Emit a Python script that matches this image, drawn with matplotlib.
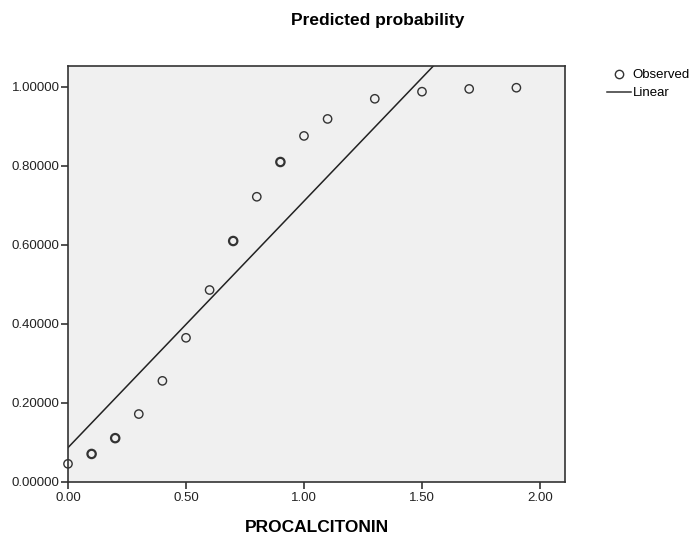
import matplotlib
matplotlib.use("Agg")
import matplotlib.pyplot as plt
from matplotlib.lines import Line2D

# observed probabilities by procalcitonin value
pct_values = [0.0, 0.1, 0.2, 0.3, 0.4, 0.5, 0.6, 0.7, 0.8, 0.9, 1.0, 1.1, 1.3, 1.5, 1.7, 1.9]
observed = [0.046, 0.071, 0.111, 0.172, 0.256, 0.365, 0.486, 0.610, 0.722, 0.810,
            0.876, 0.919, 0.970, 0.988, 0.995, 0.998]
# points that appear more than once (drawn heavier)
repeated = [0.1, 0.2, 0.7, 0.9]

# linear fit
intercept = 0.087
slope = 0.624

x_ticks = [0.0, 0.5, 1.0, 1.5, 2.0]
y_ticks = [0.0, 0.2, 0.4, 0.6, 0.8, 1.0]

plt.rcParams["font.family"] = ["Liberation Sans", "DejaVu Sans"]

fig = plt.figure(figsize=(6.94, 5.38), dpi=100)
ax = fig.add_axes([68 / 694, 1 - 482 / 538, (565 - 68) / 694, (482 - 66) / 538])
ax.set_facecolor("#f0f0f0")

x_max, y_max = 2.106, 1.053
ax.set_xlim(0, x_max)
ax.set_ylim(0, y_max)

# linear fit line
ax.plot([0, x_max], [intercept, intercept + slope * x_max], color="#222222", lw=1.1, zorder=2)

# observed points
lw = [1.6 if x in repeated else 1.0 for x in pct_values]
ax.scatter(pct_values, observed, s=36, facecolors="none", edgecolors="#333333",
           linewidths=lw, zorder=3, clip_on=False)

ax.set_xticks(x_ticks)
ax.set_xticklabels([f"{v:.2f}" for v in x_ticks])
ax.set_yticks(y_ticks)
ax.set_yticklabels([f"{v:.5f}" for v in y_ticks])
ax.tick_params(direction="out", length=5, width=1.2, color="#333333",
               labelsize=9.5, labelcolor="#222222", pad=1)
ax.tick_params(axis="x", pad=2)
for sp in ax.spines.values():
    sp.set_color("#333333")
    sp.set_linewidth(1.2)

ax.set_xlabel("PROCALCITONIN", fontsize=12.5, fontweight="bold", labelpad=12)
fig.text(378 / 694, 1 - 21 / 538, "Predicted probability", ha="center", va="center",
         fontsize=12.5, fontweight="bold")

handles = [
    Line2D([], [], marker="o", linestyle="none", markerfacecolor="none",
           markeredgecolor="#333333", markersize=6, label="Observed"),
    Line2D([], [], color="#333333", lw=1.1, label="Linear"),
]
fig.legend(handles=handles, loc="upper left", bbox_to_anchor=(607 / 694, 1 - 69 / 538),
           frameon=False, fontsize=9.5, handlelength=1.8, handletextpad=0.15,
           labelspacing=0.45, borderpad=0, borderaxespad=0)

fig.savefig("out.png", dpi=100)
